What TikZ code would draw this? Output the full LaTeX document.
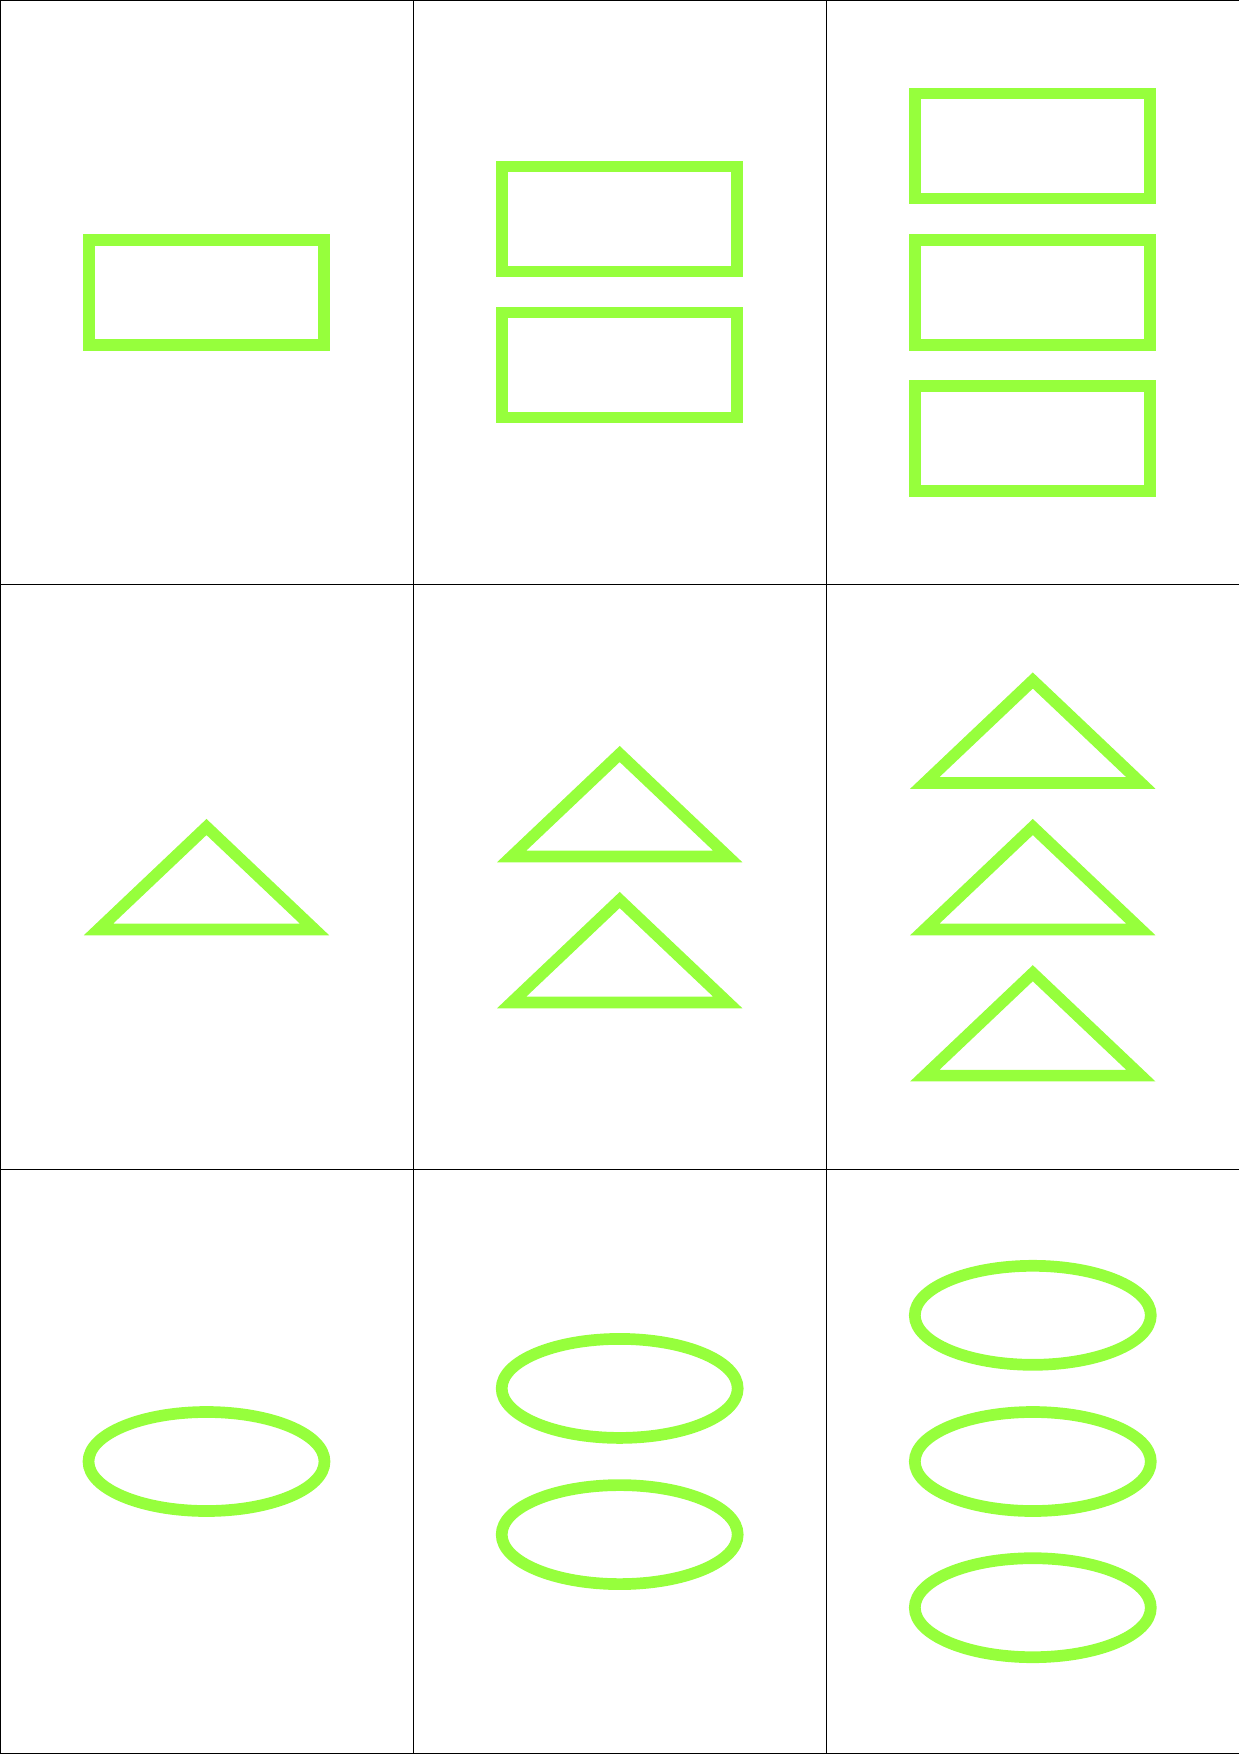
\documentclass[tikz,border=0pt]{standalone}
\usepackage{tikz}
\usepackage{xcolor}
\usetikzlibrary{shapes.geometric}
\definecolor{lime}{RGB}{150,255,60}

\begin{document}
\begin{tikzpicture}[x=1pt,y=-1pt]
      \useasboundingbox(0,0) rectangle (1239,1754);
      \tikzset{R/.style = {shape=rectangle, draw=lime, line width=11.7pt, minimum width=235pt, minimum height=105pt, inner sep=0pt}}
      \tikzset{O/.style = {shape=ellipse, draw=lime, line width=11.7pt, minimum width=236pt, minimum height=99pt, inner sep=0pt}}
      \tikzset{T/.style = {draw=lime, line width=11.7pt, miter limit=10}}
      \tikzset{G/.style = {draw=black, line width=1pt}}
      \tikzset{tri/.pic = {\draw[T] (0,-50) -- (108,52.4) -- (-108,52.4) -- cycle;}}
      % grid
      \draw[G] (0.5,0) to (0.5,1754);
      \draw[G] (413,0) to (413,1754);
      \draw[G] (826,0) to (826,1754);
      \draw[G] (0,0.5) to (1239,0.5);
      \draw[G] (0,584.5) to (1239,584.5);
      \draw[G] (0,1169) to (1239,1169);
      \draw[G] (0,1753) to (1239,1753);
      % rectangles
      \node[R](r10) at (206.5,292.3) {};
      \node[R](r20) at (619.7,219) {};
      \node[R](r21) at (619.7,365) {};
      \node[R](r30) at (1032.8,146) {};
      \node[R](r31) at (1032.8,292.3) {};
      \node[R](r32) at (1032.8,438.3) {};
      % triangles
      \pic (t10) at (206.5,877) {tri};
      \pic (t20) at (619.7,804) {tri};
      \pic (t21) at (619.7,950) {tri};
      \pic (t30) at (1032.8,730.5) {tri};
      \pic (t31) at (1032.8,877) {tri};
      \pic (t32) at (1032.8,1023.2) {tri};
      % ellipses
      \node[O](e10) at (206.5,1461.5) {};
      \node[O](e20) at (619.7,1388.4) {};
      \node[O](e21) at (619.7,1534.6) {};
      \node[O](e30) at (1032.8,1315.3) {};
      \node[O](e31) at (1032.8,1461.5) {};
      \node[O](e32) at (1032.8,1607.7) {};
\end{tikzpicture}
\end{document}
